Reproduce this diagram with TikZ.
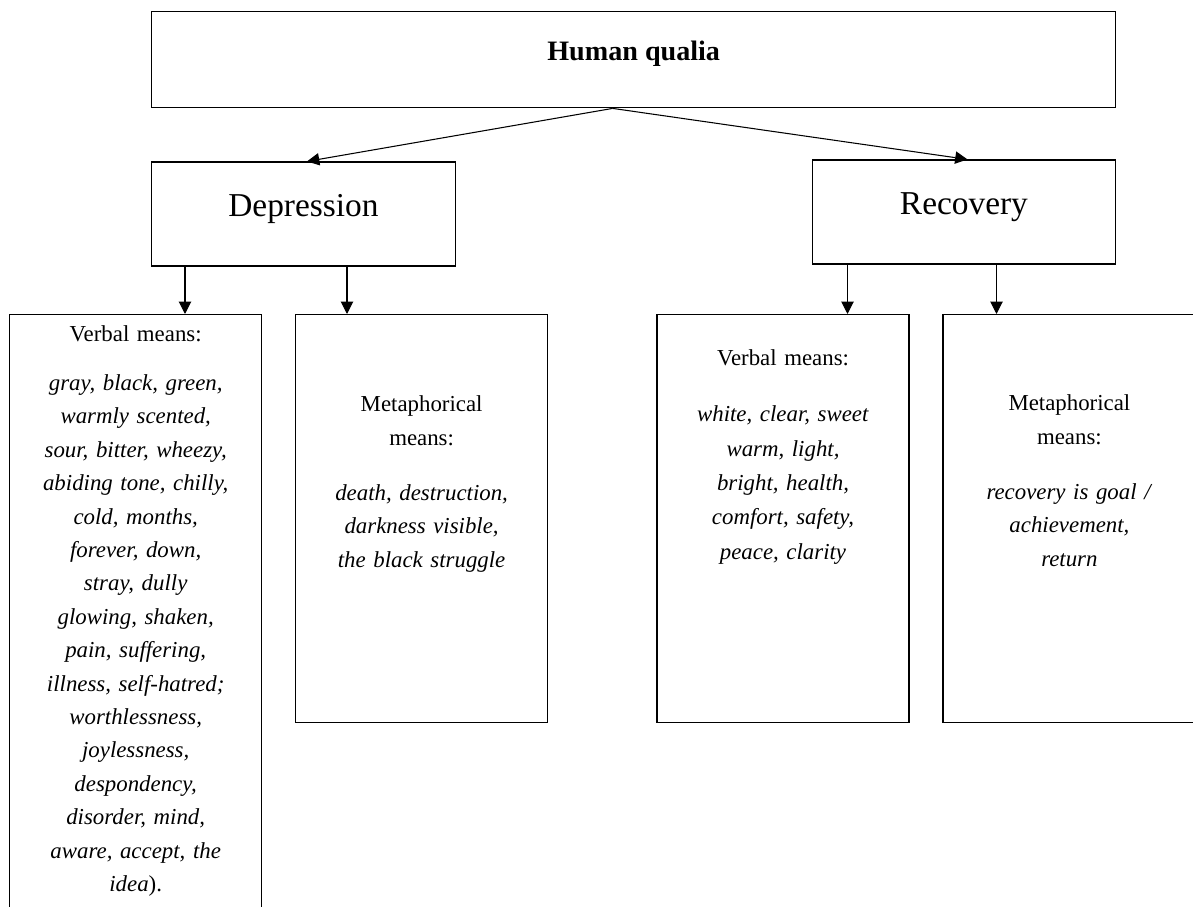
\documentclass[tikz,border=0pt]{standalone}
\usepackage{fontspec}
\setmainfont{Liberation Serif}
\usepackage{tikz}
\usetikzlibrary{arrows.meta,positioning}

\begin{document}
\begin{tikzpicture}[
    rootbox/.style={rectangle, draw, line width=0.8pt, minimum width=19.28cm, minimum height=1.92cm, font=\fontsize{16}{19}\selectfont\bfseries, text height=11pt, text depth=10pt},
    branch/.style={rectangle, draw, line width=0.8pt, minimum width=6.07cm, minimum height=2.08cm, font=\fontsize{19}{22}\selectfont, text height=12.6pt, text depth=9.5pt},
    means/.style={rectangle, draw, line width=0.8pt, minimum width=5.04cm, minimum height=8.16cm, anchor=north west},
    meanstext/.style={inner sep=0pt, text width=5cm, align=center, font=\fontsize{13}{19}\selectfont},
    arrow/.style={-{Triangle[length=7pt,width=7pt]}, line width=0.6pt}
]
\useasboundingbox (0,0) rectangle (23.86,-18.14);

% Top node
\node[rootbox, anchor=north west] (qualia) at (3.02,-0.22) {Human qualia};

% Two states
\node[branch, below=1.06cm of qualia.south west, anchor=north west] (dep) {Depression};
\node[branch, below=1.02cm of qualia.south east, anchor=north east] (rec) {Recovery};

% Means boxes
\node[means, minimum height=12cm] (vdep) at (0.18,-6.28) {};
\node[means, right=0.65cm of vdep.north east, anchor=north west] (mdep) {};
\node[means, right=2.16cm of mdep.north east, anchor=north west] (vrec) {};
\node[means, right=0.65cm of vrec.north east, anchor=north west, minimum width=5.06cm] (mrec) {};

% Texts of the means
\node[meanstext, below=0.23cm of vdep.north] (vdeptext) {Verbal means:\\[0.31cm]
    \textit{gray, black, green,}\\
    \textit{warmly scented,}\\
    \textit{sour, bitter, wheezy,}\\
    \textit{abiding tone, chilly,}\\
    \textit{cold, months,}\\
    \textit{forever, down,}\\
    \textit{stray, dully}\\
    \textit{glowing, shaken,}\\
    \textit{pain, suffering,}\\
    \textit{illness, self-hatred;}\\
    \textit{worthlessness,}\\
    \textit{joylessness,}\\
    \textit{despondency,}\\
    \textit{disorder, mind,}\\
    \textit{aware, accept, the}\\
    \textit{idea}).};
\node[meanstext, below=1.63cm of mdep.north] (mdeptext) {Metaphorical\\ means:\\[0.44cm]
    \textit{death, destruction,}\\
    \textit{darkness visible,}\\
    \textit{the black struggle}};
\node[meanstext, below=0.71cm of vrec.north, font=\fontsize{13}{19.5}\selectfont] (vrectext) {Verbal means:\\[0.44cm]
    \textit{white, clear, sweet}\\
    \textit{warm, light,}\\
    \textit{bright, health,}\\
    \textit{comfort, safety,}\\
    \textit{peace, clarity}};
\node[meanstext, below=1.61cm of mrec.north] (mrectext) {Metaphorical\\ means:\\[0.44cm]
    \textit{recovery is goal /}\\
    \textit{achievement,}\\
    \textit{return}};

% Arrows from the top
\draw[arrow] ([xshift=-0.42cm]qualia.south) -- ([xshift=3.12cm]dep.north west);
\draw[arrow] ([xshift=-0.42cm]qualia.south) -- ([xshift=3.12cm]rec.north west);

% Arrows down to the means
\draw[arrow] ([xshift=0.68cm]dep.south west) -- ([xshift=0.68cm]dep.south west |- vdep.north);
\draw[arrow] ([xshift=3.92cm]dep.south west) -- ([xshift=3.92cm]dep.south west |- mdep.north);
\draw[arrow] ([xshift=0.72cm]rec.south west) -- ([xshift=0.72cm]rec.south west |- vrec.north);
\draw[arrow] ([xshift=3.7cm]rec.south west) -- ([xshift=3.7cm]rec.south west |- mrec.north);

\end{tikzpicture}
\end{document}
